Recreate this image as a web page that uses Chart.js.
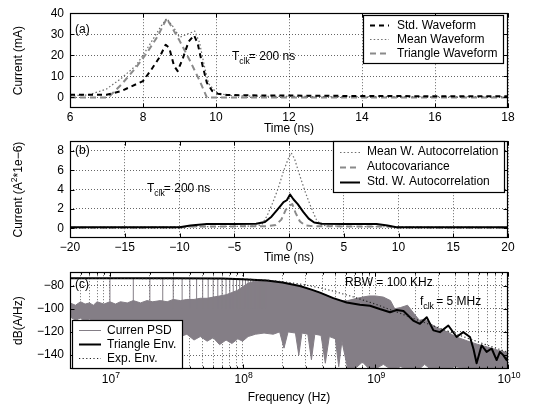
<!DOCTYPE html>
<html>
<head>
<meta charset="utf-8">
<script src="https://cdn.jsdelivr.net/npm/chart.js@4.4.1/dist/chart.umd.min.js"></script>
<style>
  html, body { margin: 0; padding: 0; background: #fff; }
  #wrap { position: relative; width: 543px; height: 405px; overflow: hidden; background: #fff; }
  #wrap canvas { position: absolute; left: 0; }
</style>
</head>
<body>
<div id="wrap">
  <canvas id="panelA" width="543" height="135" style="top:0px"></canvas>
  <canvas id="panelB" width="543" height="140" style="top:128px"></canvas>
  <canvas id="panelC" width="543" height="146" style="top:259px"></canvas>
</div>
<script>
// ---------- (a) current waveforms of one clock event ----------
const timeTicksA = [6, 8, 10, 12, 14, 16, 18];
const currentTicksA = [0, 10, 20, 30, 40];

const stdWaveT  = [6, 7.0, 7.4, 8.0, 8.2, 8.45, 8.62, 8.72, 8.85, 8.95, 9.1, 9.25, 9.4, 9.5, 9.62, 9.75, 9.9, 10.05, 10.3, 11, 12, 14, 16, 18];
const stdWaveMA = [1.3, 1.3, 3.0, 7.8, 12.5, 19, 25, 23.5, 15, 12.5, 19, 26.5, 29.5, 25.5, 16, 7, 3, 1.8, 1.2, 1.0, 0.9, 0.7, 0.6, 0.6];

const meanWaveT  = [6, 6.5, 7.0, 7.4, 7.8, 8.0, 8.25, 8.5, 8.65, 8.85, 9.0, 9.2, 9.42, 9.55, 9.68, 9.8, 10.0, 10.3, 11, 12, 14, 16, 18];
const meanWaveMA = [0.8, 1.2, 4, 9, 15, 20, 27, 34, 37.5, 33, 28.5, 30, 31.5, 26, 15, 6.5, 2.5, 1, 0.6, 0.5, 0.4, 0.4, 0.4];

const triWaveT  = [6, 7.05, 7.4, 7.8, 8.1, 8.4, 8.65, 9.0, 9.3, 9.55, 9.75, 10, 18];
const triWaveMA = [0, 0, 6, 14, 21, 29, 37.5, 27, 17, 8, 0, 0, 0];

// ---------- (b) autocorrelation functions ----------
const lagTicksB = [-20, -15, -10, -5, 0, 5, 10, 15, 20];
const acTicksB = [0, 2, 4, 6, 8];

const meanAcLag = [-20, -10, -5, -3, -2.5, -2, -1.5, -1, -0.5, 0, 0.2, 0.5, 1, 1.5, 2, 2.5, 3, 5, 10, 20];
const meanAcVal = [0.1, 0.15, 0.2, 0.25, 0.35, 1.3, 2.6, 4.1, 5.9, 7.4, 7.8, 7.2, 5.4, 3.7, 2.2, 0.9, 0.3, 0.2, 0.15, 0.1];

const acovLag = [-20, -10, -9, -5, -2, -1.2, -0.7, -0.3, 0.1, 0.3, 0.6, 1.0, 1.5, 2.2, 5, 9, 10, 20];
const acovVal = [0.05, 0.08, 0.18, 0.2, 0.22, 0.35, 0.9, 1.9, 2.4, 2.5, 1.6, 0.7, 0.3, 0.22, 0.2, 0.18, 0.08, 0.05];

const stdAcLag = [-20, -10, -9, -7.5, -5, -3, -2.2, -1.6, -1.0, -0.5, -0.2, 0.1, 0.4, 0.8, 1.3, 1.8, 2.3, 3, 5, 8, 9, 9.8, 20];
const stdAcVal = [0.1, 0.12, 0.3, 0.45, 0.45, 0.48, 0.65, 1.2, 2.0, 2.7, 2.9, 3.5, 3.0, 2.5, 1.7, 1.0, 0.6, 0.48, 0.45, 0.45, 0.3, 0.12, 0.1];

// ---------- (c) current spectrum ----------
const freqDecadesC = [1e7, 1e8, 1e9, 1e10];
const dbTicksC = [-140, -120, -100, -80];

// clock harmonics (MHz) and their peak levels
const harmonicMHz = [5, 10, 15, 20, 25, 30, 35, 40, 45, 50, 55, 60, 65, 70, 75, 80, 85, 90, 95, 100,
                     105, 110, 115, 120, 125, 130, 135, 140, 145, 150];
const harmonicPeakDb = [-73.8, -73.8, -73.9, -73.8, -73.9, -73.8, -73.9, -73.9, -73.9, -74.0,
                        -74.0, -74.0, -74.1, -74.1, -74.2, -74.2, -74.3, -74.3, -74.4, -74.5,
                        -74.6, -74.7, -74.8, -74.9, -75.0, -75.1, -75.2, -75.3, -75.5, -75.6];
const harmonicBaseDb = -100;

// spread of the broadband part of the spectrum (upper and lower edge)
const psdBandHz = [5.0e6, 5.5e6, 6.0e6, 6.5e6, 7.0e6, 7.5e6, 8.0e6, 9.0e6, 1.0e7, 1.1e7, 1.2e7, 1.35e7, 1.5e7, 1.7e7, 1.9e7,
                   2.1e7, 2.4e7, 2.7e7, 3.0e7, 3.4e7, 3.8e7, 4.3e7, 4.8e7, 5.4e7, 6.0e7, 6.7e7, 7.5e7, 8.3e7, 9.2e7, 1.0e8,
                   1.1e8, 1.25e8, 1.45e8, 1.7e8, 1.9e8, 2.05e8, 2.2e8, 2.5e8, 2.65e8, 2.8e8, 3.1e8, 3.3e8, 3.5e8, 3.9e8, 4.2e8,
                   4.5e8, 5.0e8, 5.3e8, 5.6e8, 6.2e8, 7.0e8, 8.0e8, 9.0e8, 1.0e9, 1.15e9, 1.3e9, 1.4e9, 1.55e9, 1.75e9, 1.95e9,
                   2.15e9, 2.35e9, 2.6e9, 3.0e9, 3.5e9, 4.0e9, 5.0e9, 6.0e9, 7.0e9, 8.5e9, 1.0e10];
const psdBandTopDb = [-95, -97, -94, -96, -95, -97, -94, -96, -94, -96, -94, -95, -93, -95, -93,
                      -94, -93, -94, -92, -93, -92, -92, -91, -91, -90, -89, -88, -86, -84, -81,
                      -78, -76, -76, -76.2, -77, -77.6, -78.3, -79.6, -80.3, -81, -82.5, -83.7, -84.6, -86.5, -88,
                      -89.5, -91.5, -92.5, -93.3, -93, -91.5, -90, -89, -89, -90, -93, -100, -99, -97, -104,
                      -110, -109, -113, -117, -120, -124, -128, -131, -133, -136, -138];
const psdBandBotDb = [-107, -110, -108, -112, -109, -111, -110, -113, -111, -115, -113, -116, -114, -118, -116,
                      -120, -118, -122, -120, -124, -122, -127, -124, -128, -125, -131, -127, -130, -126, -128,
                      -124, -122, -121, -122, -120, -134, -120, -121, -140, -121, -122, -144, -122, -123, -147,
                      -124, -126, -150, -128, -152, -152, -146, -152, -152, -148, -152, -152, -150, -152, -152,
                      -152, -148, -152, -152, -152, -150, -152, -152, -151, -152, -152];

const triEnvHz = [5e6, 3e7, 7e7, 1.0e8, 1.52e8, 2.0e8, 2.7e8, 3.3e8, 3.83e8, 4.82e8, 6.08e8, 7.66e8, 9.12e8, 1.08e9,
                  1.29e9, 1.45e9, 1.63e9, 1.93e9, 2.17e9, 2.44e9, 2.74e9, 3.07e9, 3.55e9, 4.10e9, 4.60e9, 5.17e9,
                  5.5e9, 5.8e9, 6.33e9, 6.9e9, 7.53e9, 8.21e9, 8.7e9, 9.21e9, 9.77e9, 1e10];
const triEnvDb = [-73.8, -73.8, -74.0, -74.5, -75.6, -77.3, -80.4, -83.5, -86.1, -90.9, -94.6, -96.6, -97.4, -100.3,
                  -103.1, -101.1, -102, -110.2, -113, -107.4, -118.7, -120.2, -114.5, -124.4, -120.2, -124.4,
                  -135, -147, -131.5, -137.2, -134.3, -144.3, -137.2, -140, -144.3, -141];

const expEnvHz = [5e6, 1e8, 1.5e8, 2e8, 3e8, 4e8, 5e8, 7e8, 1e9, 1.5e9, 2e9, 3e9, 5e9, 7e9, 1e10];
const expEnvDb = [-73.8, -74.3, -75.3, -76.6, -79.5, -82.5, -85.3, -90.2, -96, -103.5, -109, -116.5, -125.5, -131.5, -137.5];

// ---------- drawing helpers ----------
const FONT = '"Liberation Sans", Arial, Helvetica, sans-serif';
const FS = 12;
const GRID = 'rgba(0,0,0,0.6)';
const minusSign = v => (v < 0 ? '\u2212' + Math.abs(v) : String(v));
const pts = (xs, ys) => xs.map((x, i) => ({ x, y: ys[i] }));

// text with sub/superscript pieces: parts = [[text, 'sub'|'sup'|undefined, dx]]
function richWidth(ctx, parts, size) {
  let w = 0;
  for (const [t, kind, dx] of parts) {
    ctx.font = `${kind ? size * 0.72 : size}px ${FONT}`;
    w += ctx.measureText(t).width + (dx || 0);
  }
  return w;
}
function richText(ctx, x, y, parts, size) {
  let cx = x;
  ctx.textBaseline = 'middle';
  ctx.textAlign = 'left';
  for (const [t, kind, dx] of parts) {
    cx += dx || 0;
    ctx.font = `${kind ? size * 0.72 : size}px ${FONT}`;
    const dy = kind === 'sub' ? size * 0.38 : kind === 'sup' ? -size * 0.4 : 0;
    ctx.fillText(t, cx, y + dy);
    cx += ctx.measureText(t).width;
  }
  return cx - x;
}

// frame, inward tick marks, legend box and labels for one panel
function makeDeco(d) {
  return {
    id: 'panelDeco',
    afterDatasetsDraw(chart) {
      const { ctx, chartArea: a, scales: { x, y } } = chart;
      ctx.save();
      ctx.strokeStyle = '#000';
      ctx.lineWidth = 1;
      ctx.beginPath();
      for (const t of x.ticks) {
        const px = Math.round(x.getPixelForValue(t.value)) + 0.5;
        const L = t.major === false ? 2.5 : 4.5;
        ctx.moveTo(px, a.bottom); ctx.lineTo(px, a.bottom - L);
        ctx.moveTo(px, a.top); ctx.lineTo(px, a.top + L);
      }
      for (const t of y.ticks) {
        const py = Math.round(y.getPixelForValue(t.value)) + 0.5;
        ctx.moveTo(a.left, py); ctx.lineTo(a.left + 4.5, py);
        ctx.moveTo(a.right, py); ctx.lineTo(a.right - 4.5, py);
      }
      ctx.stroke();
      ctx.lineWidth = 1.2;
      ctx.strokeRect(Math.round(a.left) + 0.5, Math.round(a.top) + 0.5,
                     Math.round(a.right - a.left) - 1, Math.round(a.bottom - a.top) - 1);
      ctx.restore();
    },
    afterDraw(chart) {
      const { ctx, chartArea: a, scales: { x } } = chart;
      const top = d.canvasTop;
      ctx.save();
      ctx.fillStyle = '#000';

      // log-axis decade labels (10^n)
      if (d.decadeLabels) {
        for (const t of x.ticks) {
          if (!d.decadeLabels.includes(t.value)) continue;
          const px = x.getPixelForValue(t.value);
          const exp = String(Math.round(Math.log10(t.value)));
          const parts = [['10'], [exp, 'sup']];
          const w = richWidth(ctx, parts, FS);
          richText(ctx, px - w / 2 + 1, d.decadeY - top, parts, FS);
        }
      }

      // axis titles
      ctx.textBaseline = 'middle';
      ctx.textAlign = 'center';
      ctx.font = `${FS}px ${FONT}`;
      ctx.fillText(d.xTitle, (a.left + a.right) / 2, d.xTitleY - top);
      ctx.save();
      ctx.translate(d.yTitleX, (a.top + a.bottom) / 2);
      ctx.rotate(-Math.PI / 2);
      const yw = richWidth(ctx, d.yTitle, FS);
      richText(ctx, -yw / 2, 0, d.yTitle, FS);
      ctx.restore();

      // free text notes
      for (const n of d.notes) richText(ctx, n.x, n.y - top, n.parts, FS);

      // legend
      const L = d.legend;
      const rows = L.labels.map(lbl => chart.data.datasets.find(ds => ds.label === lbl));
      ctx.font = `${FS}px ${FONT}`;
      const tw = Math.max(...L.labels.map(s => ctx.measureText(s).width));
      const bx = L.x, by = L.y - top;
      const bw = (L.textX - L.x) + tw + 6;
      const bh = L.rowH * rows.length + 6;
      ctx.fillStyle = '#fff';
      ctx.fillRect(bx, by, bw, bh);
      ctx.strokeStyle = '#000';
      ctx.lineWidth = 1.2;
      ctx.strokeRect(Math.round(bx) + 0.5, Math.round(by) + 0.5, Math.round(bw), Math.round(bh));
      rows.forEach((ds, i) => {
        const ry = by + 3 + L.rowH * (i + 0.5);
        ctx.save();
        ctx.strokeStyle = ds.borderColor;
        ctx.lineWidth = ds.borderWidth;
        ctx.setLineDash(ds.borderDash || []);
        ctx.beginPath();
        ctx.moveTo(L.x + L.sample[0], Math.round(ry) + 0.5);
        ctx.lineTo(L.x + L.sample[1], Math.round(ry) + 0.5);
        ctx.stroke();
        ctx.restore();
        ctx.fillStyle = '#000';
        ctx.textAlign = 'left';
        ctx.textBaseline = 'middle';
        ctx.font = `${FS}px ${FONT}`;
        ctx.fillText(ds.label, L.textX, ry + 0.5);
      });
      ctx.restore();
    }
  };
}

function makePanel(id, cfg) {
  const canvasH = document.getElementById(id).height;
  return new Chart(document.getElementById(id), {
    type: 'line',
    data: { datasets: cfg.datasets },
    options: {
      responsive: false,
      animation: false,
      devicePixelRatio: 1,
      events: [],
      layout: { padding: { left: 0, right: 35, top: cfg.areaTop, bottom: 0 } },
      elements: { point: { radius: 0 }, line: { tension: 0, borderJoinStyle: 'round' } },
      plugins: { legend: { display: false }, tooltip: { enabled: false } },
      scales: {
        x: Object.assign({
          grid: { color: GRID, lineWidth: 1, drawTicks: false },
          border: { display: false, dash: [1, 2] },
          ticks: { color: '#000', font: { family: FONT, size: FS }, padding: 2, maxRotation: 0, autoSkip: false },
          afterFit: s => { s.height = canvasH - cfg.areaBottom; }
        }, cfg.x),
        y: Object.assign({
          grid: { color: GRID, lineWidth: 1, drawTicks: false },
          border: { display: false, dash: [1, 2] },
          ticks: { color: '#000', font: { family: FONT, size: FS }, padding: 6, autoSkip: false, callback: v => minusSign(v) },
          afterFit: s => { s.width = 70; }
        }, cfg.y)
      }
    },
    plugins: [makeDeco(cfg.deco)]
  });
}

// ---------- panel (a) ----------
makePanel('panelA', {
  areaTop: 12, areaBottom: 108,
  datasets: [
    { label: 'Std. Waveform', data: pts(stdWaveT, stdWaveMA), borderColor: '#000', borderWidth: 2, borderDash: [5, 4], fill: false },
    { label: 'Mean Waveform', data: pts(meanWaveT, meanWaveMA), borderColor: '#6e6e6e', borderWidth: 1.2, borderDash: [1.5, 2.2], fill: false },
    { label: 'Triangle Waveform', data: pts(triWaveT, triWaveMA), borderColor: '#8a8a8a', borderWidth: 2, borderDash: [6, 4], fill: false }
  ],
  x: { type: 'linear', min: 6, max: 18,
       afterBuildTicks: s => { s.ticks = timeTicksA.map(v => ({ value: v })); } },
  y: { type: 'linear', min: -5, max: 40,
       afterBuildTicks: s => { s.ticks = currentTicksA.map(v => ({ value: v })); } },
  deco: {
    canvasTop: 0,
    xTitle: 'Time (ns)', xTitleY: 129,
    yTitle: [['Current (mA)']], yTitleX: 19,
    notes: [
      { x: 75, y: 30, parts: [['(a)']] },
      { x: 232, y: 57, parts: [['T'], ['clk', 'sub'], ['= 200 ns', undefined, -1]] }
    ],
    legend: { labels: ['Std. Waveform', 'Mean Waveform', 'Triangle Waveform'], x: 363, y: 15, rowH: 14, sample: [7, 26], textX: 397 }
  }
});

// ---------- panel (b) ----------
makePanel('panelB', {
  areaTop: 12, areaBottom: 110,
  datasets: [
    { label: 'Std. W. Autocorrelation', data: pts(stdAcLag, stdAcVal), borderColor: '#000', borderWidth: 2, fill: false },
    { label: 'Autocovariance', data: pts(acovLag, acovVal), borderColor: '#8a8a8a', borderWidth: 2, borderDash: [6, 4], fill: false },
    { label: 'Mean W. Autocorrelation', data: pts(meanAcLag, meanAcVal), borderColor: '#6e6e6e', borderWidth: 1.2, borderDash: [1.5, 2.2], fill: false }
  ],
  x: { type: 'linear', min: -20, max: 20,
       afterBuildTicks: s => { s.ticks = lagTicksB.map(v => ({ value: v })); },
       ticks: { color: '#000', font: { family: FONT, size: FS }, padding: 2, maxRotation: 0, autoSkip: false, callback: v => minusSign(v) } },
  y: { type: 'linear', min: -1, max: 9,
       afterBuildTicks: s => { s.ticks = acTicksB.map(v => ({ value: v })); } },
  deco: {
    canvasTop: 128,
    xTitle: 'Time (ns)', xTitleY: 258,
    yTitle: [['Current (A'], ['2', 'sup'], ['*1e\u22126)']], yTitleX: 19,
    notes: [
      { x: 75, y: 151, parts: [['(b)']] },
      { x: 147, y: 189, parts: [['T'], ['clk', 'sub'], ['= 200 ns', undefined, -1]] }
    ],
    legend: { labels: ['Mean W. Autocorrelation', 'Autocovariance', 'Std. W. Autocorrelation'], x: 333, y: 141, rowH: 15, sample: [7, 27], textX: 367 }
  }
});

// ---------- panel (c) ----------
const freqTicksC = [];
for (let e = 6; e <= 9; e++) {
  for (let m = 1; m <= 9; m++) {
    const v = m * Math.pow(10, e);
    if (v >= 5e6) freqTicksC.push(v);
  }
}
freqTicksC.push(1e10);

const spikePts = [];
harmonicMHz.forEach((f, i) => {
  spikePts.push({ x: f * 1e6, y: harmonicBaseDb }, { x: f * 1e6, y: harmonicPeakDb[i] }, { x: f * 1e6, y: null });
});

const PSD_GRAY = '#847e86';
makePanel('panelC', {
  areaTop: 12, areaBottom: 110,
  datasets: [
    { label: 'Exp. Env.', data: pts(expEnvHz, expEnvDb), borderColor: '#222', borderWidth: 1.1, borderDash: [1.2, 2.4], fill: false, order: 0 },
    { label: 'Triangle Env.', data: pts(triEnvHz, triEnvDb), borderColor: '#000', borderWidth: 2, fill: false, order: 1 },
    { label: 'Curren PSD', data: spikePts, borderColor: PSD_GRAY, borderWidth: 1, spanGaps: false, fill: false, order: 2 },
    { label: 'psd-upper', data: pts(psdBandHz, psdBandTopDb), borderColor: PSD_GRAY, borderWidth: 1, backgroundColor: PSD_GRAY, fill: '+1', order: 3 },
    { label: 'psd-lower', data: pts(psdBandHz, psdBandBotDb), borderColor: PSD_GRAY, borderWidth: 1, fill: false, order: 3 }
  ],
  x: { type: 'logarithmic', min: 5e6, max: 1e10,
       afterBuildTicks: s => { s.ticks = freqTicksC.map(v => ({ value: v, major: freqDecadesC.includes(v) })); },
       ticks: { display: false } },
  y: { type: 'linear', min: -152, max: -68.5,
       afterBuildTicks: s => { s.ticks = dbTicksC.map(v => ({ value: v })); } },
  deco: {
    canvasTop: 259,
    decadeLabels: freqDecadesC, decadeY: 380,
    xTitle: 'Frequency (Hz)', xTitleY: 398,
    yTitle: [['dB(A/Hz)']], yTitleX: 19,
    notes: [
      { x: 75, y: 285, parts: [['(c)']] },
      { x: 345, y: 283, parts: [['RBW = 100 KHz']] },
      { x: 420, y: 302, parts: [['f'], ['clk', 'sub'], [' = 5 MHz', undefined, -1]] }
    ],
    legend: { labels: ['Curren PSD', 'Triangle Env.', 'Exp. Env.'], x: 72, y: 320, rowH: 14, sample: [7, 29], textX: 107 }
  }
});
</script>
</body>
</html>
